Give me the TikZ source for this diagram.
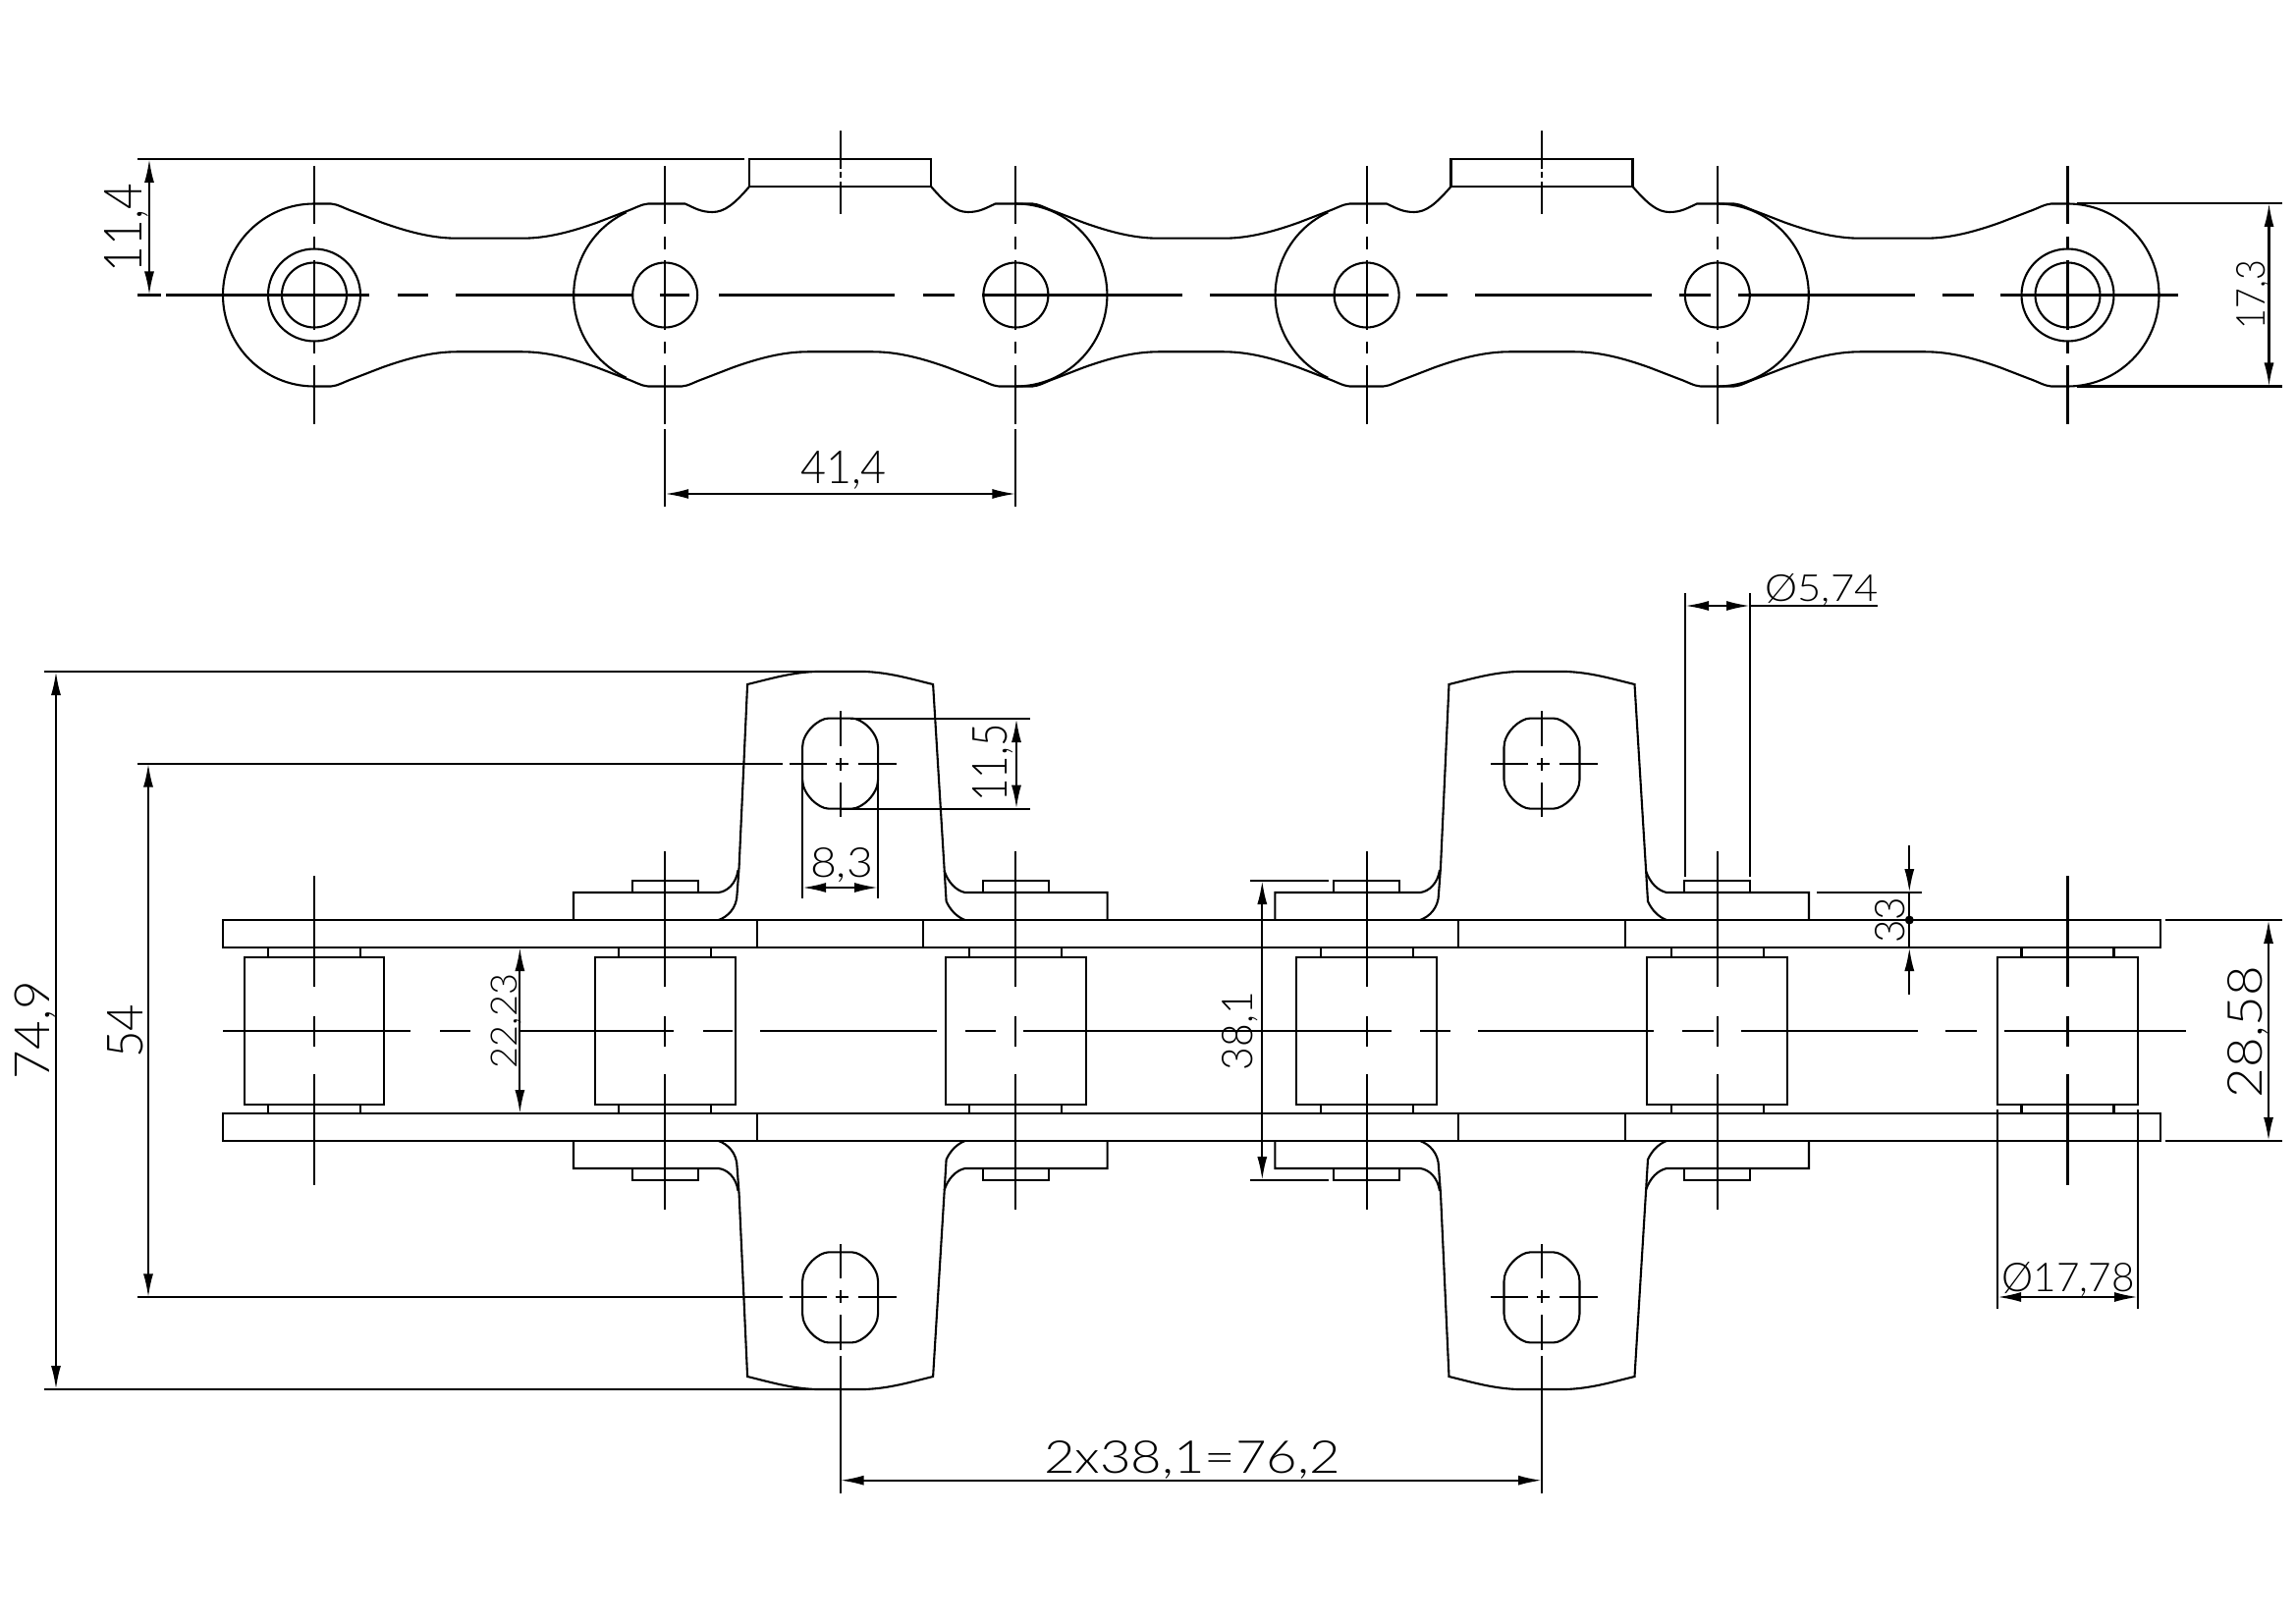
\documentclass[tikz,border=0pt]{standalone}
\usepackage{fontspec}
\setmainfont{Lato Light}
\usetikzlibrary{arrows.meta}
\newcommand{\dimtxt}[3]{\resizebox{#1pt}{#2pt}{#3}}
\tikzset{
    line/.style = {line width=2.1pt},
    dimline/.style = {line width=2.1pt, <->},
    dimtext/.style = {inner sep=0pt, text depth=0pt},
}

\begin{document}
\begin{tikzpicture}[x=1pt, y=-1pt, >={Latex[length=24pt,width=10pt]}, line]
        \useasboundingbox (0,0) rectangle (2338,1653);

        % upper view: link outline
        \foreach \x in {320,1034.4,1748.8}
            \draw [line] (\x,207.5) -- ({\x+17},207.5) .. controls ({\x+24},208) and ({\x+30},212) .. ({\x+40},215.5) -- ({\x+69},226.7) .. controls ({\x+95},236) and ({\x+120},242.7) .. ({\x+145},242.7) -- ({\x+212},242.7) .. controls ({\x+237},242.7) and ({\x+262},236) .. ({\x+288},226.7) -- ({\x+317},215.5) .. controls ({\x+327},212) and ({\x+333},208) .. ({\x+340},207.5) -- ({\x+357.2},207.5);
        \foreach \x in {320,677.2,1034.4,1391.6,1748.8}
            \draw [line] (\x,393.5) -- ({\x+17},393.5) .. controls ({\x+24},393) and ({\x+30},389) .. ({\x+40},385.5) -- ({\x+69},374.3) .. controls ({\x+95},365) and ({\x+120},358.3) .. ({\x+145},358.3) -- ({\x+212},358.3) .. controls ({\x+237},358.3) and ({\x+262},365) .. ({\x+288},374.3) -- ({\x+317},385.5) .. controls ({\x+327},389) and ({\x+333},393) .. ({\x+340},393.5) -- ({\x+357.2},393.5);
        \foreach \c in {855.6,1570} {
            \draw [line] ({\c-178.6},207.5) -- ({\c-158},207.5) .. controls ({\c-148},212) and ({\c-142},216) .. ({\c-130},216) .. controls ({\c-118},216) and ({\c-108},208) .. ({\c-92.5},190);
            \draw [line] ({\c+178.6},207.5) -- ({\c+158},207.5) .. controls ({\c+148},212) and ({\c+142},216) .. ({\c+130},216) .. controls ({\c+118},216) and ({\c+108},208) .. ({\c+92.5},190);
            \draw [line] ({\c-92.5},162) rectangle ({\c+92.5},190);
            \foreach \a/\b in {133/172,175/181,185/218}
                \draw [line] (\c,\a) -- (\c,\b);
        }
        \draw [line] (320,207.5) arc [start angle=90, end angle=270, radius=93pt];
        \foreach \x in {1034.4,1748.8,2105.5}
            \draw [line] (\x,207.5) arc [start angle=90, end angle=-90, radius=93pt];
        \foreach \x in {677.2,1391.6}
            \draw [line] (\x,300.5) ++(115:93pt) arc [start angle=115, end angle=245, radius=93pt];

        % upper view: holes and centre lines
        \foreach \x in {320,677.2,1034.4,1391.6,1748.8,2105.5} {
            \draw [line] (\x,300.5) circle [radius=33];
            \foreach \a/\b in {169/228,241/254,265/336,348/360,372/432}
                \draw [line] (\x,\a) -- (\x,\b);
        }
        \draw [line] (320,300.5) circle [radius=47];
        \draw [line] (2105.5,300.5) circle [radius=47];
        \foreach \a/\b in {169/376,405/436,464/644,672/702,732/911,940/972,1000/1204,1232/1414,1442/1474,1502/1682,1710/1742,1770/1950,1978/2010,2037/2218}
            \draw [line] (\a,300.5) -- (\b,300.5);

        % upper view: dimensions
        \draw [line] (140,162) -- (758,162);
        \draw [line] (140,300.5) -- (164,300.5);
        \draw [dimline] (152,162) -- (152,300.5);
        \node [dimtext, rotate=90] (height) at (125,232) {\dimtxt{90}{38}{11,4}};
        \draw [line] (2115,207) -- (2324,207);
        \draw [line] (2115,393.5) -- (2324,393.5);
        \draw [dimline] (2310.5,207) -- (2310.5,393.5);
        \node [dimtext, rotate=90] (width) at (2292,300) {\dimtxt{70}{29}{17,3}};
        \draw [line] (677.2,437) -- (677.2,516);
        \draw [line] (1034.4,437) -- (1034.4,516);
        \draw [dimline] (677.2,503) -- (1034.4,503);
        \node [dimtext] (pitch) at (859,476) {\dimtxt{88}{33}{41,4}};

        % lower view: plates, rollers and pins
        \draw [line] (227,937) rectangle (2200,965);
        \draw [line] (227,1134) rectangle (2200,1162);
        \foreach \x in {771,940,1485,1655}
            \draw [line] (\x,937) -- (\x,965);
        \foreach \x in {771,1485,1655}
            \draw [line] (\x,1134) -- (\x,1162);
        \foreach \x/\a/\b in {320/892/1207,677.2/867/1232,1034.4/867/1232,1391.6/867/1232,1748.8/867/1232,2105.5/892/1207} {
            \draw [line] ({\x-71.4},975) rectangle ({\x+71.4},1125);
            \draw [line] ({\x-47},965) -- ({\x-47},975);
            \draw [line] ({\x+47},965) -- ({\x+47},975);
            \draw [line] ({\x-47},1125) -- ({\x-47},1134);
            \draw [line] ({\x+47},1125) -- ({\x+47},1134);
            \draw [line] (\x,\a) -- (\x,1005);
            \draw [line] (\x,1035) -- (\x,1066);
            \draw [line] (\x,1094) -- (\x,\b);
        }
        \foreach \a/\b in {227/418,448/479,528/686,716/746,774/954,983/1014,1042/1417,1446/1477,1505/1684,1713/1745,1773/1953,1981/2013,2041/2226}
            \draw [line] (\a,1050) -- (\b,1050);

        % lower view: attachments, drawn once and mirrored
        \foreach \s in {1,-1} {
            \begin{scope}[shift={(0,{(1-\s)*1049.5})}, yscale=\s]
                \foreach \c in {855.6,1570} {
                    \draw [line] ({\c-124},937) .. controls ({\c-115},934) and ({\c-105},925) .. ({\c-105},910) -- ({\c-103},883) -- ({\c-94.5},697) .. controls ({\c-70},691) and ({\c-50},685) .. ({\c-25},684) -- ({\c+25},684) .. controls ({\c+50},685) and ({\c+70},691) .. ({\c+94.5},697) -- ({\c+106},885) -- ({\c+108},918) .. controls ({\c+112},927) and ({\c+119},934) .. ({\c+127},937);
                    \draw [line] ({\c-271.6},937) -- ({\c-271.6},909) -- ({\c-124},909) .. controls ({\c-115},908) and ({\c-106},900) .. ({\c-104},886);
                    \draw [line] ({\c+272},937) -- ({\c+272},909) -- ({\c+127},909) .. controls ({\c+118},907) and ({\c+110},899) .. ({\c+106},887);
                    \draw [line] ({\c-212},909) -- ({\c-212},897) -- ({\c-145},897) -- ({\c-145},909);
                    \draw [line] ({\c+145},909) -- ({\c+145},897) -- ({\c+212},897) -- ({\c+212},909);
                    \draw [line] ({\c-12},731.6) -- ({\c+12},731.6) .. controls ({\c+22},731.6) and ({\c+38.5},746) .. ({\c+38.5},761) -- ({\c+38.5},794) .. controls ({\c+38.5},809) and ({\c+22},823.6) .. ({\c+12},823.6) -- ({\c-12},823.6) .. controls ({\c-22},823.6) and ({\c-38.5},809) .. ({\c-38.5},794) -- ({\c-38.5},761) .. controls ({\c-38.5},746) and ({\c-22},731.6) .. ({\c-12},731.6) -- cycle;
                    \draw [line] ({\c-52},777.6) -- ({\c-14},777.6);
                    \draw [line] ({\c-5},777.6) -- ({\c+8},777.6);
                    \draw [line] ({\c+18},777.6) -- ({\c+57},777.6);
                    \foreach \a/\b in {724/760,772/785,797/832}
                        \draw [line] (\c,\a) -- (\c,\b);
                }
            \end{scope}
        }

        % lower view: dimensions
        \draw [line] (45,684) -- (826,684);
        \draw [line] (45,1415) -- (826,1415);
        \draw [dimline] (57,684) -- (57,1415);
        \node [dimtext, rotate=90] (total) at (33,1049) {\dimtxt{100}{35.5}{74,9}};
        \draw [line] (140,777.6) -- (797,777.6);
        \draw [line] (140,1321.4) -- (797,1321.4);
        \draw [dimline] (151,777.6) -- (151,1321.4);
        \node [dimtext, rotate=90] (holes) at (127,1050) {\dimtxt{55}{36}{54}};
        \draw [dimline] (529.4,965) -- (529.4,1134);
        \node [dimtext, rotate=90] (inner) at (513,1040) {\dimtxt{96}{26.5}{22,23}};
        \draw [line] (866,732) -- (1049,732);
        \draw [line] (856,823.6) -- (1049,823.6);
        \draw [dimline] (1035,732) -- (1035,823.6);
        \node [dimtext, rotate=90] (slot) at (1008,777) {\dimtxt{79}{35}{11,5}};
        \draw [line] (817.1,778) -- (817.1,915);
        \draw [line] (894.1,778) -- (894.1,915);
        \draw [dimline] (817.1,904) -- (894.1,904);
        \node [dimtext] (slotw) at (857,878) {\dimtxt{64}{30}{8,3}};
        \draw [line] (1716,604) -- (1716,893);
        \draw [line] (1782,604) -- (1782,893);
        \draw [dimline] (1716,617) -- (1782,617);
        \draw [line] (1782,617) -- (1912,617);
        \node [dimtext] (pin) at (1855,598.5) {\dimtxt{115}{28}{Ø5,74}};
        \draw [line] (1850,909) -- (1957,909);
        \draw [line, ->] (1944.3,861) -- (1944.3,909);
        \draw [line, ->] (1944.3,1013) -- (1944.3,965);
        \draw [line] (1944.3,909) -- (1944.3,965);
        \fill (1944.3,937) circle [radius=4.5];
        \node [dimtext, rotate=90] (foot) at (1924,937) {\dimtxt{47}{30}{33}};
        \draw [line] (1273,897) -- (1353,897);
        \draw [line] (1273,1202) -- (1353,1202);
        \draw [dimline] (1285.3,897) -- (1285.3,1202);
        \node [dimtext, rotate=90] (over) at (1259.5,1050) {\dimtxt{80}{31}{38,1}};
        \draw [line] (2205,937) -- (2324,937);
        \draw [line] (2205,1162) -- (2324,1162);
        \draw [dimline] (2310,937) -- (2310,1162);
        \node [dimtext, rotate=90] (plates) at (2286,1051) {\dimtxt{134}{35}{28,58}};
        \draw [line] (2034,1130) -- (2034,1333);
        \draw [line] (2177,1130) -- (2177,1333);
        \draw [dimline] (2034,1321) -- (2177,1321);
        \node [dimtext] (roller) at (2106,1300) {\dimtxt{135}{30}{Ø17,78}};
        \draw [line] (855.6,1381) -- (855.6,1521);
        \draw [line] (1570,1381) -- (1570,1521);
        \draw [dimline] (855.6,1507.7) -- (1570,1507.7);
        \node [dimtext] (spacing) at (1214,1483.5) {\dimtxt{302}{33}{2x38,1=76,2}};
    \end{tikzpicture}
\end{document}
